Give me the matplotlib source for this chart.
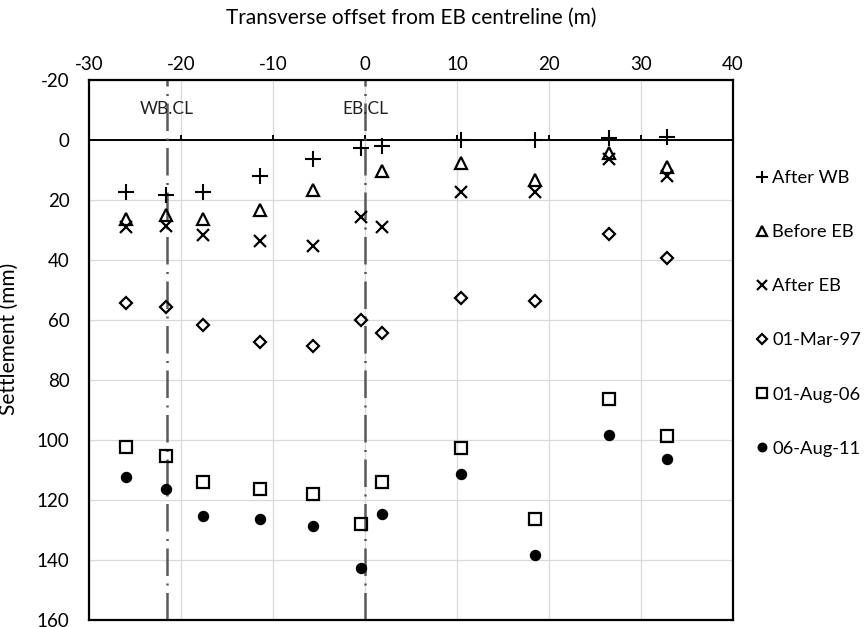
import matplotlib
matplotlib.use("Agg")
import matplotlib.pyplot as plt

plt.rcParams['font.family'] = ['Lato', 'DejaVu Sans']
plt.rcParams['axes.unicode_minus'] = False

# transverse offsets of the survey points (m from EB centreline)
offsets = [-26.0, -21.6, -17.6, -11.4, -5.6, -0.4, 1.9, 10.4, 18.5, 26.5, 32.8]

after_wb = [17.4, 18.3, 17.2, 12.1, 6.2, 2.7, 2.0, 0.0, 0.0, -0.8, -0.9]
before_eb = [26.4, 25.0, 26.4, 23.3, 16.7, None, 10.2, 7.8, 13.3, 4.2, 9.1]
after_eb = [28.9, 28.6, 31.7, 33.7, 35.3, 25.6, 28.9, 17.4, 17.4, 6.4, 12.0]
mar_97 = [54.2, 55.8, 61.7, 67.2, 68.7, 60.0, 64.2, 52.6, 53.7, 31.4, 39.4]
aug_06 = [102.4, 105.2, 113.9, 116.4, 118.1, 128.1, 114.1, 102.6, 126.3, 86.3, 98.6]
aug_11 = [112.2, 116.3, 125.3, 126.3, 128.7, 142.6, 124.7, 111.3, 138.4, 98.3, 106.3]

series = [
    ("After WB", after_wb, dict(marker='+', ms=11, mew=1.5, mfc='none')),
    ("Before EB", before_eb, dict(marker='^', ms=8.5, mew=1.6, mfc='none')),
    ("After EB", after_eb, dict(marker='x', ms=8, mew=1.6, mfc='none')),
    ("01-Mar-97", mar_97, dict(marker='D', ms=6.3, mew=1.6, mfc='none')),
    ("01-Aug-06", aug_06, dict(marker='s', ms=8.5, mew=1.6, mfc='none')),
    ("06-Aug-11", aug_11, dict(marker='o', ms=7.2, mew=1.0, mfc='black')),
]

centrelines = [(-21.5, "WB.CL"), (0.0, "EB.CL")]
x_ticks = [-30, -20, -10, 0, 10, 20, 30, 40]
y_ticks = [-20, 0, 20, 40, 60, 80, 100, 120, 140, 160]

fig = plt.figure(figsize=(8.66, 6.27), dpi=100)
ax = fig.add_axes([89 / 866, 1 - 620 / 627, (733 - 89) / 866, (620 - 80) / 627])

ax.set_xlim(-30, 40)
ax.set_ylim(160, -20)
ax.set_xticks(x_ticks)
ax.set_yticks(y_ticks)
ax.xaxis.tick_top()
ax.xaxis.set_label_position('top')
ax.tick_params(axis='x', length=0, pad=5, labelsize=13.5)
ax.tick_params(axis='y', length=0, pad=14, labelsize=13.5)
ax.grid(True, color='#d9d9d9', lw=0.9)
ax.set_axisbelow(True)
for sp in ax.spines.values():
    sp.set_linewidth(1.6)

ax.set_xlabel("Transverse offset from EB centreline (m)", fontsize=15, labelpad=23)
ax.set_ylabel("Settlement (mm)", fontsize=15)
ax.yaxis.set_label_coords(-0.109, 0.52)

# zero-settlement line with small tick marks
ax.axhline(0, color='black', lw=1.4, zorder=2)
ax.vlines(x_ticks[1:-1], 0, -1.8, color='black', lw=1.4, zorder=2)

for xc, name in centrelines:
    ax.axvline(xc, color='#5a5a5a', lw=1.8, ls=(0, (11, 3, 0.8, 3)), zorder=2)
    ax.text(xc, -10.5, name, ha='center', va='center', fontsize=12.5, color='#222222')

for label, vals, style in series:
    xs = [x for x, v in zip(offsets, vals) if v is not None]
    ys = [v for v in vals if v is not None]
    ax.plot(xs, ys, ls='none', color='black', mec='black', label=label, zorder=3, **style)

ax.legend(loc='upper left', bbox_to_anchor=(755 / 866, 1 - 170 / 627),
          bbox_transform=fig.transFigure, frameon=False, fontsize=13.2,
          labelspacing=2.08, handlelength=0.8, handletextpad=0.15, borderaxespad=0,
          borderpad=0, markerscale=0.85)

fig.savefig("out.png", dpi=100)
